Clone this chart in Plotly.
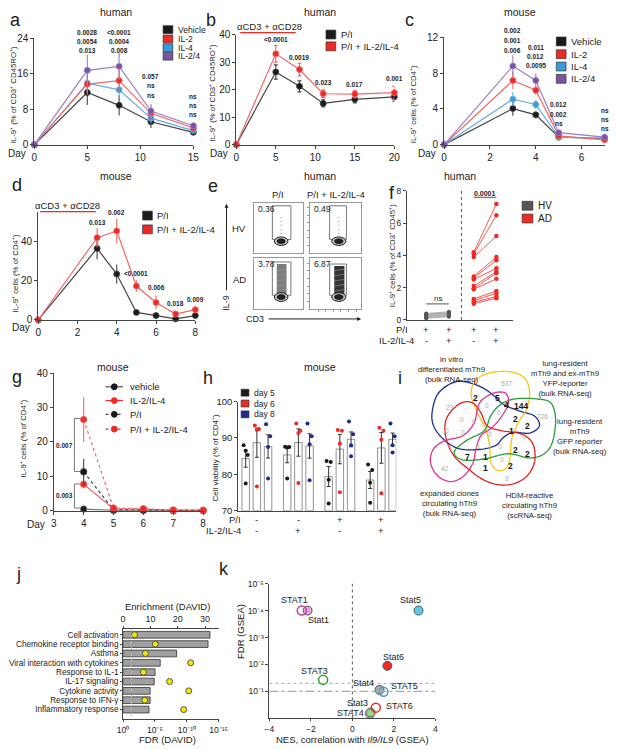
import plotly.graph_objects as go
import numpy as np

W, H = 617, 750
FONT = "Arial, Liberation Sans, Helvetica, sans-serif"


def PX(x):
    return x / W


def PY(y):
    return 1 - y / H


# ======================= DATA =======================
# a (human)
a_days = [0, 5, 8, 11, 15]
a_vehicle = [0, 11.8, 8.9, 5.2, 2.8]
a_vehicle_err = [0, 2.8, 2.3, 1.4, 0.5]
a_il2 = [0, 13.7, 14.5, 7.1, 3.8]
a_il2_err = [0, 2.4, 2.8, 1.6, 0.6]
a_il4 = [0, 13.9, 12.4, 6.0, 3.2]
a_il4_err = [0, 2.2, 2.0, 1.2, 0.5]
a_il24 = [0, 16.8, 17.7, 7.6, 4.3]
a_il24_err = [0, 3.5, 3.0, 1.6, 0.7]
a_p_days = [5, 8, 11, 15]
a_p_labels = [["0.0028", "0.0054", "0.013"], ["<0.0001", "0.0004", "0.008"],
              ["0.057", "ns", "ns"], ["ns", "ns", "ns"]]

# b (human)
b_days = [0, 5, 8, 11, 15, 20]
b_pi = [0, 26.4, 21.2, 15.0, 16.5, 17.4]
b_pi_err = [0, 2.6, 2.0, 1.3, 1.3, 1.6]
b_piil = [0, 33.0, 27.3, 18.5, 18.4, 18.9]
b_piil_err = [0, 3.0, 2.3, 1.4, 1.3, 2.3]
b_p_days = [5, 8, 11, 15, 20]
b_p_labels = ["<0.0001", "0.0019", "0.023", "0.017", "0.001"]

# c (mouse)
c_days = [0, 3, 4, 5, 7]
c_vehicle = [0, 4.05, 3.35, 0.85, 0.7]
c_vehicle_err = [0, 0.8, 0.4, 0.15, 0.15]
c_il2 = [0, 7.2, 6.1, 1.0, 0.55]
c_il2_err = [0, 1.0, 0.5, 0.2, 0.2]
c_il4 = [0, 5.1, 4.5, 0.85, 0.75]
c_il4_err = [0, 0.8, 0.5, 0.15, 0.15]
c_il24 = [0, 8.8, 7.2, 1.35, 0.85]
c_il24_err = [0, 1.2, 0.8, 0.2, 0.15]
c_p_days = [3, 4, 5, 7]
c_p_labels = [["0.002", "0.001", "0.006"], ["0.011", "0.012", "0.0095"],
              ["0.012", "0.002", "ns"], ["ns", "ns", "ns"]]

# d (mouse)
d_days = [0, 3, 4, 5, 6, 7, 8]
d_pi = [0, 36.3, 23.3, 3.8, 2.2, 0.5, 2.2]
d_pi_err = [0, 5.5, 4.8, 0.6, 0.5, 0.3, 0.4]
d_piil = [0, 41.8, 45.2, 17.2, 8.8, 3.0, 5.2]
d_piil_err = [0, 5.0, 6.2, 3.0, 3.5, 1.2, 2.2]
d_p_days = [3, 4, 5, 6, 7, 8]
d_p_labels = ["0.013", "0.002", "<0.0001", "0.006", "0.018", "0.009"]

# e (flow plots)
e_pct = ["0.36", "0.49", "3.78", "6.87"]
e_rows = ["HV", "AD"]
e_cols = ["P/I", "P/I + IL-2/IL-4"]

# f (human)
f_hv_pi = [0.10, 0.15, 0.20, 0.25, 0.30, 0.35, 0.40]
f_hv_piil = [0.20, 0.25, 0.30, 0.35, 0.40, 0.45, 0.50]
f_ad_pi = [4.2, 4.1, 3.9, 2.7, 2.6, 2.5, 2.1, 1.95, 1.9, 1.3, 1.2, 1.1, 1.0]
f_ad_piil = [7.2, 6.5, 5.2, 3.9, 3.7, 3.2, 3.0, 2.9, 2.55, 1.8, 1.65, 1.45, 1.35]
f_pi_row = ["+", "+", "+", "+"]
f_il_row = ["-", "+", "-", "+"]

# g (mouse)
g_days = [4, 5, 6, 7, 8]
g_vehicle = [0.5, 0.1, 0.1, 0.1, 0.1]
g_vehicle_err = [0.3, 0, 0, 0, 0]
g_il = [7.7, 0.6, 0.5, 0.1, 0.1]
g_il_err = [1.2, 0.2, 0.2, 0, 0]
g_pi = [11.3, 0.3, 0.2, 0.1, 0.1]
g_pi_err = [3.8, 0.1, 0.1, 0, 0]
g_piil = [26.5, 0.8, 0.6, 0.2, 0.1]
g_piil_err = [6.5, 0.3, 0.2, 0, 0]

# h (mouse) cell viability, 4 conditions x 3 days, 4 mice each
h_day5 = [[88.0, 85.3, 86.5, 77.5], [87.6, 87.5, 87.4, 78.9],
          [83.7, 83.4, 78.5, 72.0], [82.7, 81.2, 77.7, 72.2]]
h_day6 = [[93.4, 92.5, 92.2, 76.7], [94.0, 92.0, 91.4, 77.6],
          [92.2, 92.0, 88.5, 75.1], [92.8, 92.0, 89.5, 74.8]]
h_day8 = [[93.8, 90.5, 87.5, 78.9], [94.0, 90.5, 88.3, 78.4],
          [94.5, 91.0, 88.0, 85.0], [94.0, 90.5, 88.0, 86.0]]
h_pi_row = ["-", "-", "+", "+"]
h_il_row = ["-", "+", "-", "+"]

# i (venn)
venn_sets = ["in vitro<br>differentiated mTh9<br>(bulk RNA-seq)",
             "lung-resident<br>mTh9 and ex-mTh9<br>YFP-reporter<br>(bulk RNA-seq)",
             "lung-resident<br>mTh9<br>GFP reporter<br>(bulk RNA-seq)",
             "expanded clones<br>circulating hTh9<br>(bulk RNA-seq)",
             "HDM-reactive<br>circulating hTh9<br>(scRNA-seq)"]
venn_counts = ["537", "23", "726", "42", "9",
               "2", "5", "4", "144", "2", "2", "1", "7", "1", "2", "2", "2", "1",
               "0", "0", "0", "0", "0", "0", "0", "0", "0", "0", "0", "0"]

# j
j_terms = ["Cell activation", "Chemokine receptor binding", "Asthma",
           "Viral interaction with cytokines", "Response to IL-1", "IL-17 signaling",
           "Cytokine activity", "Response to IFN-γ", "Inflammatory response"]
j_enrich = [31.8, 31.1, 19.6, 13.6, 11.7, 11.4, 9.9, 9.9, 9.5]
j_fdr_mlog10 = [1.8, 5.05, 3.5, 10.6, 3.2, 7.3, 10.3, 3.4, 9.5]

# k
k_human = ["STAT1", "STAT3", "STAT4", "STAT5", "STAT6"]
k_human_nes = [-2.44, -1.41, 0.85, 1.50, 1.13]
k_human_fdr = [4.0, 1.43, 0.18, 0.99, 0.40]
k_mouse = ["Stat1", "Stat3", "Stat4", "Stat5", "Stat6"]
k_mouse_nes = [-2.16, 0.88, 1.31, 3.19, 1.69]
k_mouse_fdr = [4.0, 0.22, 1.06, 4.0, 1.95]

# ======================= STYLE =======================
BLACK = "#1a1a1a"
RED = "#ee2a24"
BLUE = "#3b9ad8"
PURPLE = "#7a52a6"
L_BLACK = "#444444"
L_RED = "#f26868"
L_BLUE = "#62b0e3"
L_PURPLE = "#9b80c4"

fig = go.Figure()
axes = {}
shapes = []
anns = []


def sfx(n):
    return "" if n == 1 else str(n)


def add_axes(n, xpx, ypx, xkw, ykw, tick=9):
    base = dict(showline=True, linecolor="#444", linewidth=1, ticks="outside", ticklen=3,
                tickwidth=1, tickcolor="#444", showgrid=False, zeroline=False,
                tickfont=dict(size=tick, color="#222", family=FONT), fixedrange=True)
    xa = dict(base)
    xa.update(domain=[PX(xpx[0]), PX(xpx[1])], anchor="y" + sfx(n))
    xa.update(xkw)
    ya = dict(base)
    ya.update(domain=[PY(ypx[1]), PY(ypx[0])], anchor="x" + sfx(n))
    ya.update(ykw)
    axes["xaxis" + sfx(n)] = xa
    axes["yaxis" + sfx(n)] = ya


def A(text, x, y, size=8, color="#222", xanchor="center", yanchor="middle",
      xref="paper", yref="paper", angle=0, bold=False):
    if xref == "paper":
        x = PX(x)
    if yref == "paper":
        y = PY(y)
    anns.append(dict(text=("<b>%s</b>" % text) if bold else text, x=x, y=y, xref=xref, yref=yref,
                     showarrow=False, font=dict(size=size, color=color, family=FONT),
                     xanchor=xanchor, yanchor=yanchor, textangle=angle))


def R(x0, y0, x1, y1, fill, line="#222", lw=0.8):
    shapes.append(dict(type="rect", xref="paper", yref="paper", x0=PX(x0), x1=PX(x1),
                       y0=PY(y1), y1=PY(y0), fillcolor=fill, line=dict(color=line, width=lw)))


def L(x0, y0, x1, y1, color="#222", width=1, dash="solid", xref="paper", yref="paper"):
    if xref == "paper":
        x0, x1 = PX(x0), PX(x1)
    if yref == "paper":
        y0, y1 = PY(y0), PY(y1)
    shapes.append(dict(type="line", xref=xref, yref=yref, x0=x0, x1=x1, y0=y0, y1=y1,
                       line=dict(color=color, width=width, dash=dash)))


def C(cx, cy, r, fill, line):
    shapes.append(dict(type="circle", xref="paper", yref="paper", x0=PX(cx - r), x1=PX(cx + r),
                       y0=PY(cy + r), y1=PY(cy - r), fillcolor=fill, line=dict(color=line, width=1)))


def line_trace(n, x, y, err, color, lcolor, dash="solid", size=6, cap=0):
    fig.add_trace(go.Scatter(x=x, y=y, xaxis="x" + sfx(n), yaxis="y" + sfx(n), mode="lines+markers",
                             line=dict(color=lcolor, width=1.2, dash=dash),
                             marker=dict(color=color, size=size, line=dict(color=lcolor, width=0.8)),
                             error_y=dict(type="data", array=err, color=lcolor, thickness=1.1, width=cap),
                             showlegend=False, cliponaxis=False))


def legend_sq(x, y, color, text, w=10, h=9, size=9.5):
    R(x, y - h / 2, x + w, y + h / 2, color, line="#333", lw=0.7)
    A(text, x + w + 3, y, size=size, xanchor="left")


TICK = 10
TITLE = 10.5
LETTER = 18

# ======================= PANEL a =======================
add_axes(1, (29, 192), (33, 141), dict(range=[0, 15], tickvals=[0, 5, 10, 15]),
         dict(range=[0, 24], tickvals=[0, 8, 16, 24]), tick=TICK)
line_trace(1, a_days, a_vehicle, a_vehicle_err, BLACK, L_BLACK)
line_trace(1, a_days, a_il4, a_il4_err, BLUE, L_BLUE)
line_trace(1, a_days, a_il2, a_il2_err, RED, L_RED)
line_trace(1, a_days, a_il24, a_il24_err, PURPLE, L_PURPLE)
a_stack_y = [[27, 36, 45], [27, 36, 45], [72, 81, 91], [92, 101, 110]]
for d, labs, ys in zip(a_p_days, a_p_labels, a_stack_y):
    for lab, yy in zip(labs, ys):
        A(lab, d, yy, size=6.5, xref="x", bold=True)
for col, lab, yy in zip([BLACK, RED, BLUE, PURPLE], ["Vehicle", "IL-2", "IL-4", "IL-2/4"], [24, 33.5, 42.5, 51]):
    legend_sq(161, yy, col, lab, h=8, size=8.6)
A("Day", 23, 150, size=TICK, xanchor="right")
A("IL-9⁺ (% of CD3⁺ CD45RO⁺)", 8, 90, size=7.8, angle=-90)
A("human", 113, 6, size=TITLE)
A("a", 10, 14, size=LETTER)

# ======================= PANEL b =======================
add_axes(2, (236, 398), (29, 141), dict(range=[0, 20], tickvals=[0, 5, 10, 15, 20]),
         dict(range=[0, 40], tickvals=[0, 10, 20, 30, 40]), tick=TICK)
line_trace(2, b_days, b_pi, b_pi_err, BLACK, L_BLACK, cap=2)
line_trace(2, b_days, b_piil, b_piil_err, RED, L_RED, cap=2)
b_p_y = [34, 52, 78, 80, 74]
for d, lab, yy in zip(b_p_days, b_p_labels, b_p_y):
    A(lab, d, yy, size=6.5, xref="x2", bold=True)
legend_sq(328, 29, BLACK, "P/I")
legend_sq(328, 41, RED, "P/I + IL-2/IL-4")
A("αCD3 + αCD28", 270, 21, size=9.5)
L(240, 27, 297, 27, color=RED, width=1.2)
A("Day", 230, 150, size=TICK, xanchor="right")
A("IL-9⁺ (% of CD3⁺ CD45RO⁺)", 212, 88, size=7.8, angle=-90)
A("human", 322, 6, size=TITLE)
A("b", 210, 14, size=LETTER)

# ======================= PANEL c =======================
add_axes(3, (449, 613.5), (32, 141), dict(range=[0, 7], tickvals=[0, 2, 4, 6]),
         dict(range=[0, 12], tickvals=[0, 4, 8, 12]), tick=TICK)
line_trace(3, c_days, c_vehicle, c_vehicle_err, BLACK, L_BLACK)
line_trace(3, c_days, c_il4, c_il4_err, BLUE, L_BLUE)
line_trace(3, c_days, c_il2, c_il2_err, RED, L_RED)
line_trace(3, c_days, c_il24, c_il24_err, PURPLE, L_PURPLE)
c_stack_y = [[25, 35, 45], [42, 51, 60], [100, 110, 119], [106, 115, 124]]
for d, labs, ys in zip(c_p_days, c_p_labels, c_stack_y):
    for lab, yy in zip(labs, ys):
        A(lab, d, yy, size=6.5, xref="x3", bold=True)
for col, lab, yy in zip([BLACK, RED, BLUE, PURPLE], ["Vehicle", "IL-2", "IL-4", "IL-2/4"], [36, 49, 61.5, 74]):
    legend_sq(564, yy, col, lab)
A("Day", 443, 150, size=TICK, xanchor="right")
A("IL-9⁺ cells (% of CD4⁺)", 418, 100, size=7.8, angle=-90)
A("mouse", 527, 6, size=TITLE)
A("c", 414, 14, size=LETTER)

# ======================= PANEL d =======================
add_axes(4, (33, 194), (209, 319), dict(range=[0, 8], tickvals=[0, 2, 4, 6, 8]),
         dict(range=[0, 55], tickvals=[0, 20, 40]), tick=TICK)
line_trace(4, d_days, d_pi, d_pi_err, BLACK, L_BLACK)
line_trace(4, d_days, d_piil, d_piil_err, RED, L_RED)
d_p_y = [220, 210, 272, 286, 302, 298]
for d, lab, yy in zip(d_p_days, d_p_labels, d_p_y):
    A(lab, d, yy, size=6.5, xref="x4", bold=True)
legend_sq(140, 213, BLACK, "P/I")
legend_sq(140, 227, RED, "P/I + IL-2/IL-4")
A("αCD3 + αCD28", 63, 203, size=9.5)
L(35, 209, 92, 209, color=RED, width=1.2)
A("Day", 27, 327, size=TICK, xanchor="right")
A("IL-9⁺ cells (% of CD4⁺)", 10, 272, size=7.8, angle=-90)
A("mouse", 113, 173, size=TITLE)
A("d", 11, 182, size=LETTER)

# ======================= PANEL e =======================
e_boxes = [(5, 254, 304, 200, 251), (6, 312, 364, 200, 251), (7, 254, 304, 256, 308), (8, 312, 364, 256, 308)]
e_gate_x1 = [0.76, 0.71, 0.76, 0.71]
e_gate_y1 = [0.94, 0.94, 0.92, 0.88]
for k, (n, x0, x1, y0, y1) in enumerate(e_boxes):
    add_axes(n, (x0, x1), (y0, y1),
             dict(range=[0, 1], mirror=True, ticks="outside" if k == 3 else "", showticklabels=False,
                  linecolor="#999", tickcolor="#999", ticklen=2, tickvals=[0.15, 0.3, 0.45, 0.6, 0.75, 0.9]),
             dict(range=[0, 1], mirror=True, ticks="outside" if k % 2 == 1 else "", showticklabels=False,
                  linecolor="#999", tickcolor="#999", ticklen=2, tickvals=[0.15, 0.3, 0.45, 0.6, 0.75, 0.9]))
    xr, yr = "x" + sfx(n), "y" + sfx(n)
    shapes.append(dict(type="rect", xref=xr, yref=yr, x0=0.38, x1=e_gate_x1[k], y0=0.27, y1=e_gate_y1[k],
                       line=dict(color="#555", width=0.8)))
    if k >= 2:
        dense = 0.9 if k == 3 else 0.7
        shapes.append(dict(type="rect", xref=xr, yref=yr, x0=0.47, x1=0.67, y0=0.27, y1=e_gate_y1[k] - 0.04,
                           fillcolor="#1e1e1e" if k == 3 else "#444", opacity=dense, line=dict(width=0)))
        for yy in [0.35, 0.45, 0.55, 0.65, 0.75]:
            shapes.append(dict(type="line", xref=xr, yref=yr, x0=0.47, x1=0.67, y0=yy, y1=yy + 0.03,
                               line=dict(color="#999", width=0.6)))
    else:
        for yy in [0.55, 0.62, 0.7, 0.45, 0.38]:
            shapes.append(dict(type="circle", xref=xr, yref=yr, x0=0.55, x1=0.57, y0=yy, y1=yy + 0.02,
                               fillcolor="#555", line=dict(width=0)))
    shapes.append(dict(type="circle", xref=xr, yref=yr, x0=0.42, x1=0.70, y0=0.15, y1=0.32,
                       fillcolor="#bbb", line=dict(color="#222", width=1)))
    shapes.append(dict(type="circle", xref=xr, yref=yr, x0=0.48, x1=0.64, y0=0.19, y1=0.28,
                       fillcolor="#222", line=dict(color="#000", width=0.8)))
    A(e_pct[k], 0.04, 0.88, size=8.5, xref=xr, yref=yr, xanchor="left")
A(e_cols[0], 279, 192, size=9.5)
A(e_cols[1], 338, 192, size=9.5)
A(e_rows[0], 239, 226, size=9.5)
A(e_rows[1], 239, 278, size=9.5)
A("IL-9", 226, 302, size=9, angle=-90)
anns.append(dict(x=PX(226), y=PY(201), ax=0, ay=88, xref="paper", yref="paper",
                 text="", showarrow=True, arrowhead=2, arrowsize=0.8,
                 arrowwidth=1, arrowcolor="#222"))
A("CD3", 255, 318, size=9)
anns.append(dict(x=PX(364), y=PY(318), ax=-94, ay=0, xref="paper", yref="paper",
                 text="", showarrow=True, arrowhead=2, arrowsize=0.8,
                 arrowwidth=1, arrowcolor="#222"))
A("human", 322, 173, size=TITLE)
A("e", 212, 183, size=LETTER)

# ======================= PANEL f =======================
f_pos = [0.85, 1.85, 2.95, 3.95]
add_axes(9, (411, 520), (188, 319), dict(range=[0, 4.7], showticklabels=False, ticks=""),
         dict(range=[0, 8], tickvals=[0, 2, 4, 6, 8], ticklen=3), tick=8.5)
for a_, b_ in zip(f_hv_pi, f_hv_piil):
    fig.add_trace(go.Scatter(x=[f_pos[0], f_pos[1]], y=[a_, b_], xaxis="x9", yaxis="y9", mode="lines+markers",
                             line=dict(color="#999", width=0.8), marker=dict(color="#555", size=4),
                             showlegend=False, cliponaxis=False))
for a_, b_ in zip(f_ad_pi, f_ad_piil):
    fig.add_trace(go.Scatter(x=[f_pos[2], f_pos[3]], y=[a_, b_], xaxis="x9", yaxis="y9", mode="lines+markers",
                             line=dict(color="#f04545", width=0.9), marker=dict(color=RED, size=4.5),
                             showlegend=False, cliponaxis=False))
L(2.41, 0, 2.41, 8, color="#555", width=1, dash="dot", xref="x9", yref="y9")
L(f_pos[0], 1.0, f_pos[1], 1.0, color="#777", width=1.2, xref="x9", yref="y9")
A("ns", 1.35, 297, size=8, xref="x9")
L(f_pos[2], 7.6, f_pos[3], 7.6, color="#777", width=1.2, xref="x9", yref="y9")
A("0.0001", 3.45, 191, size=7, xref="x9", bold=True)
for p, s1, s2 in zip(f_pos, f_pi_row, f_il_row):
    A(s1, p, 329, size=9.5, xref="x9")
    A(s2, p, 340, size=9.5, xref="x9")
A("P/I", 414, 329, size=9.5, xanchor="right")
A("IL-2/IL-4", 420, 340, size=9.5, xanchor="right")
legend_sq(529, 203, "#555", "HV", w=11, h=9, size=10)
legend_sq(529, 216, RED, "AD", w=11, h=9, size=10)
A("IL-9⁺ cells (% of CD3⁺ CD45⁺)", 397, 254, size=7.8, angle=-90)
A("human", 465, 173, size=TITLE)
A("f", 396, 190, size=LETTER)

# ======================= PANEL g =======================
add_axes(10, (49, 202), (373, 513), dict(range=[3, 8], tickvals=[3, 4, 5, 6, 7, 8]),
         dict(range=[0, 40], tickvals=[0, 10, 20, 30, 40]), tick=TICK)
line_trace(10, g_days, g_vehicle, g_vehicle_err, BLACK, "#777", size=6.5)
line_trace(10, g_days, g_il, g_il_err, RED, L_RED, size=6.5)
line_trace(10, g_days, g_pi, g_pi_err, BLACK, L_BLACK, dash="dot", size=6.5)
line_trace(10, g_days, g_piil, g_piil_err, RED, L_RED, dash="dot", size=6.5)
for ytop, ybot, lab in [(26.8, 11.4, "0.007"), (7.8, 0.8, "0.003")]:
    L(3.69, ytop, 3.88, ytop, color="#777", width=1, xref="x10", yref="y10")
    L(3.69, ytop, 3.69, ybot, color="#777", width=1, xref="x10", yref="y10")
    L(3.69, ybot, 3.88, ybot, color="#777", width=1, xref="x10", yref="y10")
    A(lab, 3.35, (ytop + ybot) / 2, size=6.5, xref="x10", yref="y10", bold=True)
for lab, yy, col, dash in [("vehicle", 387, BLACK, "solid"), ("IL-2/IL-4", 401, RED, "solid"),
                           ("P/I", 415, BLACK, "dot"), ("P/I + IL-2/IL-4", 430, RED, "dot")]:
    L(102, yy, 120, yy, color=col if col == RED else "#444", width=1.1, dash=dash)
    C(111, yy, 3, col, col)
    A(lab, 125, yy, size=9.5, xanchor="left")
A("Day", 42, 527, size=TICK, xanchor="right")
A("IL-9⁺ cells (% of CD4⁺)", 18, 440, size=7.8, angle=-90)
A("mouse", 110, 367, size=TITLE)
A("g", 11, 377, size=LETTER)

# ======================= PANEL h =======================
add_axes(11, (238, 400), (402, 513), dict(range=[-0.45, 3.36], showticklabels=False, ticks=""),
         dict(range=[70, 100], tickvals=[70, 80, 90, 100]), tick=9.5)
h_cols = [BLACK, RED, "#1c2a8c"]
h_offsets = [-0.27, 0.0, 0.27]
h_jit = [-0.05, 0.05, 0.0, 0.0]
for day_data, off, col in zip([h_day5, h_day6, h_day8], h_offsets, h_cols):
    means = [float(np.mean(v)) for v in day_data]
    sems = [float(np.std(v, ddof=1) / np.sqrt(len(v))) for v in day_data]
    fig.add_trace(go.Bar(x=[i + off for i in range(4)], y=[m - 70 for m in means], base=70, width=0.18,
                         xaxis="x11", yaxis="y11", marker=dict(color="white", line=dict(color="#777", width=0.8)),
                         error_y=dict(type="data", array=sems, color="#333", thickness=1, width=2),
                         showlegend=False))
    px_, py_ = [], []
    for i, v in enumerate(day_data):
        for j, val in enumerate(v):
            px_.append(i + off + h_jit[j])
            py_.append(val)
    fig.add_trace(go.Scatter(x=px_, y=py_, xaxis="x11", yaxis="y11", mode="markers",
                             marker=dict(color=col, size=4), showlegend=False, cliponaxis=False))
for i, (s1, s2) in enumerate(zip(h_pi_row, h_il_row)):
    A(s1, i, 522, size=9.5, xref="x11")
    A(s2, i, 533, size=9.5, xref="x11")
A("P/I", 243, 522, size=9.5, xanchor="right")
A("IL-2/IL-4", 243, 533, size=9.5, xanchor="right")
for col, lab, yy in zip(h_cols, ["day 5", "day 6", "day 8"], [393, 404, 415]):
    legend_sq(241, yy, col, lab, w=8, h=7, size=8.5)
A("Cell viability (% of CD4⁺)", 215, 459, size=8, angle=-90)
A("mouse", 322, 367, size=TITLE)
A("h", 207, 378, size=LETTER)

# ======================= PANEL i (Venn) =======================


def closed_spline(pts, n=10):
    P = np.array(pts, dtype=float)
    m = len(P)
    out = []
    for i in range(m):
        p0, p1, p2, p3 = P[i - 1], P[i], P[(i + 1) % m], P[(i + 2) % m]
        for t in np.linspace(0, 1, n, endpoint=False):
            t2, t3 = t * t, t * t * t
            out.append(0.5 * (2 * p1 + (-p0 + p2) * t + (2 * p0 - 5 * p1 + 4 * p2 - p3) * t2
                              + (-p0 + 3 * p1 - 3 * p2 + p3) * t3))
    return out


venn_outlines = [
    ("#1f2f8f", [(436.7, 413.3), (443.3, 393.3), (461.7, 381.7), (481.7, 385), (496.7, 393.3), (510, 405),
                 (526.7, 411.7), (541.7, 416.7), (546.7, 426.7), (536.7, 434), (520, 433.3), (510, 438.3),
                 (501.7, 446.7), (485, 450.7), (465, 450), (450, 441.7), (439, 428.3)]),
    ("#f5c518", [(476.7, 395), (481.7, 380), (496.7, 372.7), (516.7, 371.7), (531.7, 378.3), (536.7, 393.3),
                 (533.3, 410), (525, 423.3), (518.3, 440), (516.7, 458.3), (512.3, 470), (503.3, 471.7),
                 (496.7, 463.3), (495.7, 446.7), (491.7, 430), (483.3, 413.3)]),
    ("#2a9d3a", [(460, 451.7), (471.7, 441.7), (490, 431.7), (496.7, 416.7), (506.7, 405), (521.7, 399.3),
                 (543.3, 399.3), (558.3, 403.3), (563.3, 420), (560, 443.3), (551.7, 455), (536.7, 459.3),
                 (515, 455), (491.7, 460), (471.7, 461.7), (461.7, 458.3)]),
    ("#e02020", [(455, 413.3), (466.7, 403.3), (478.3, 403.3), (486.7, 413.3), (493.3, 426.7), (508.3, 431.7),
                 (528.3, 435), (540, 445), (541.7, 463.3), (533.3, 478.3), (518.3, 486), (501.7, 486),
                 (486.7, 480), (473.3, 470), (460, 458.3), (451.7, 441.7), (450, 425)]),
    ("#e0308a", [(488.3, 400), (500, 393.3), (511.7, 393.3), (515, 403.3), (508.3, 416.7), (498.3, 428.3),
                 (486.7, 436.7), (481.7, 450), (478.3, 465), (468.3, 478.3), (455, 483.3), (441.7, 476.7),
                 (435, 463.3), (438.3, 450), (450, 441.7), (468.3, 436.7), (480, 423.3), (483.3, 408.3)]),
]
for col, pts in venn_outlines:
    sp = closed_spline(pts)
    path = "M " + " L ".join("%.5f,%.5f" % (PX(x), PY(y)) for x, y in sp) + " Z"
    shapes.append(dict(type="path", xref="paper", yref="paper", path=path, line=dict(color=col, width=1.3)))
venn_xy = [(513.3, 383.3), (455, 408.3), (550, 416.7), (450, 470), (513.3, 480),
           (481.7, 398.3), (503.3, 398.3), (513.3, 405), (528.3, 406.7), (521.7, 420), (535, 426.7),
           (518.3, 431.7), (473.3, 458.3), (491.7, 458.3), (521.7, 451.7), (535, 455), (516.7, 467.3),
           (491.7, 470),
           (493.3, 406), (467.7, 420), (480, 422), (505, 413.3), (451.7, 431.7), (468.3, 433.3),
           (495.7, 435), (531.7, 437), (483.3, 447.3), (506.7, 447.3), (455, 448.3), (508.3, 460.7)]
for idx, (lab, (x, y)) in enumerate(zip(venn_counts, venn_xy)):
    gray = idx < 5 or lab == "0"
    A(lab, x, y, size=6.5 if gray else 8.5, color="#aaaaaa" if gray else "#111", bold=not gray)
A(venn_sets[0], 457, 369, size=7.8)
A(venn_sets[1], 573, 379, size=7.8)
A(venn_sets[2], 588, 438, size=7.8)
A(venn_sets[3], 455, 506, size=7.8)
A(venn_sets[4], 537, 508, size=7.8)
A("i", 404, 378, size=LETTER)

# ======================= PANEL j =======================
add_axes(12, (120, 218), (633, 725),
         dict(range=[0, 35], tickvals=[0, 10, 20, 30], side="top"),
         dict(range=[9.05, -0.63], tickvals=list(range(9)), ticktext=j_terms, ticklen=2), tick=8.2)
axes["xaxis13"] = dict(domain=axes["xaxis12"]["domain"], anchor="y12", overlaying="x12", side="bottom",
                       range=[0, 15], tickvals=[0, 5, 10, 15], ticktext=["10⁰", "10⁻⁵", "10⁻¹⁰", "10⁻¹⁵"],
                       showline=True, linecolor="#444", linewidth=1, ticks="outside", ticklen=2,
                       tickcolor="#444", showgrid=False, zeroline=False, fixedrange=True,
                       tickfont=dict(size=8.5, color="#222", family=FONT))
axes["xaxis12"]["tickfont"] = dict(size=9, color="#222", family=FONT)
axes["xaxis12"]["ticklen"] = 2
fig.add_trace(go.Bar(x=j_enrich, y=list(range(9)), orientation="h", width=0.72, xaxis="x12", yaxis="y12",
                     marker=dict(color="#a0a0a0", line=dict(color="#333", width=0.8)), showlegend=False))
shapes.append(dict(type="line", xref="x13", yref="y12", x0=1.3, x1=1.3, y0=-0.63, y1=9.05,
                   line=dict(color="#bbb", width=1, dash="dot")))
fig.add_trace(go.Scatter(x=j_fdr_mlog10, y=list(range(9)), xaxis="x13", yaxis="y12", mode="markers",
                         marker=dict(color="#f5e800", size=6, line=dict(color="#555", width=1)),
                         showlegend=False, cliponaxis=False))
A("Enrichment (DAVID)", 166, 610, size=9.5)
A("FDR (DAVID)", 166, 745, size=9.5)
A("j", 13, 577, size=LETTER)

# ======================= PANEL k =======================
add_axes(14, (270, 440), (587, 724), dict(range=[-4, 4], tickvals=[-4, -2, 0, 2, 4], ticklen=2),
         dict(range=[0, 5], tickvals=[1, 2, 3, 4, 5], ticktext=["10⁻¹", "10⁻²", "10⁻³", "10⁻⁴", "10⁻⁵"]), tick=8.5)
L(0, 0, 0, 5, color="#555", width=1, dash="dot", xref="x14", yref="y14")
L(-4, 1.3, 4, 1.3, color="#aaa", width=1, dash="dot", xref="x14", yref="y14")
L(-4, 1.0, 4, 1.0, color="#aaa", width=1.2, dash="dashdot", xref="x14", yref="y14")
k_human_col = ["#c040a0", "#2aa02a", "#888888", "#3b9ad8", RED]
k_mouse_col = ["#e3a6d8", "#98d68a", "#aaaaaa", "#5bc8e8", RED]
fig.add_trace(go.Scatter(x=k_mouse_nes, y=k_mouse_fdr, xaxis="x14", yaxis="y14", mode="markers",
                         marker=dict(color=k_mouse_col, size=9, line=dict(color="#555", width=1)),
                         showlegend=False, cliponaxis=False))
fig.add_trace(go.Scatter(x=k_human_nes, y=k_human_fdr, xaxis="x14", yaxis="y14", mode="markers",
                         marker=dict(color="rgba(0,0,0,0)", size=9, line=dict(color=k_human_col, width=1.5)),
                         showlegend=False, cliponaxis=False))
k_lab_px = {"STAT1": (296, 604), "Stat1": (320, 624), "Stat5": (415, 604), "Stat6": (397, 662),
            "STAT3": (316, 676), "Stat4": (366, 688), "STAT5": (408, 691), "Stat3": (360, 708),
            "STAT6": (403, 711), "STAT4": (353, 718)}
for lab in k_human + k_mouse:
    x, y = k_lab_px[lab]
    A(lab, x, y, size=9)
A("NES, correlation with <i>Il9/IL9</i> (GSEA)", 355, 745, size=9.5)
A("FDR (GSEA)", 241, 636, size=9.5, angle=-90)
A("k", 223, 572, size=LETTER)

fig.update_layout(width=W, height=H, margin=dict(l=0, r=0, t=0, b=0), paper_bgcolor="white",
                  plot_bgcolor="white", showlegend=False, font=dict(family=FONT, color="#222"),
                  barmode="overlay", shapes=shapes, annotations=anns, **axes)
fig.write_html("out.html", config={"displayModeBar": False, "staticPlot": True},
               post_script="document.body.style.margin='0';")
